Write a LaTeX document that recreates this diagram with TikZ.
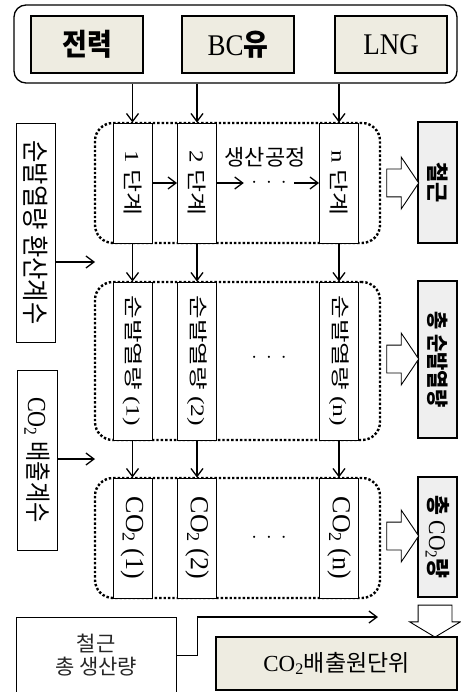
\documentclass[tikz,border=0pt]{standalone}
\usepackage{fontspec}
\usepackage{graphicx}
\setmainfont{Liberation Serif}
\newfontfamily\kr{Noto Sans CJK KR}
\usepackage{tikz}
\usetikzlibrary{arrows.meta,positioning,shapes.arrows}
\definecolor{cBege}{HTML}{EEECE1}
\definecolor{cCinza}{HTML}{EFEFEF}
\newcommand{\fs}[1]{\fontsize{#1}{#1}\selectfont}
\newcommand{\vt}[2]{\rotatebox{-90}{\scalebox{#1}[1]{#2}}}
\newcommand{\hs}[2]{\scalebox{#1}[1]{#2}}

\begin{document}
\begin{tikzpicture}[
  x=1pt,y=1pt,
  grp/.style={draw,line width=1.3pt,rounded corners=12pt,inner sep=0pt,minimum width=443,minimum height=78},
  fuel/.style={draw,fill=cBege,line width=1.2pt,inner sep=0pt,minimum width=112,minimum height=57,font=\fs{30}},
  col/.style={draw,fill=white,line width=0.9pt,inner sep=0pt,minimum width=39},
  dotb/.style={draw,line width=2.4pt,dash pattern=on 2.4pt off 2pt,rounded corners=18pt,inner sep=0pt,minimum width=285},
  side/.style={draw,fill=white,line width=0.9pt,inner sep=0pt},
  tot/.style={draw,fill=cCinza,line width=1.3pt,inner sep=0pt,minimum width=39},
  hol/.style={draw,fill=white,line width=0.9pt,single arrow,inner xsep=0pt,inner ysep=13.5pt,
              minimum height=32,single arrow head extend=12pt,single arrow tip angle=112},
  dots/.style={inner sep=0pt,minimum width=50,font=\fs{20}},
  ar/.style={-{Straight Barb[length=8pt,width=12pt]},line width=1.3pt}
]
\useasboundingbox (0,0) rectangle (460,-692);

% ---- fontes de energia
\node[grp] (src) at (235.5,-44) {};
\node[fuel] (f1) at (87,-44.5)  {\hs{0.9}{\kr\bfseries 전력}};
\node[fuel] (f2) at (238,-44.5) {\hs{0.9}{BC{\kr\bfseries 유}}};
\node[fuel] (f3) at (391,-44.5) {\hs{0.9}{LNG}};

% ---- grupos pontilhados
\node[dotb,minimum height=120] (g1) at (237.5,-183) {};
\node[dotb,minimum height=158] (g2) at (237.5,-361) {};
\node[dotb,minimum height=120] (g3) at (237.5,-538) {};

% ---- linha 1: etapas
\node[col,minimum height=120] (c11) at (132.5,-183) {\fs{20}\vt{1.25}{1 {\kr 단계}}};
\node[col,minimum height=120] (c12) at (197,-183)   {\fs{20}\vt{1.25}{2 {\kr 단계}}};
\node[col,minimum height=120] (c1n) at (339,-183)   {\fs{20}\vt{1.25}{n {\kr 단계}}};
\node[font=\fs{22}\kr] (lbl) at (265,-157) {생산공정};
\node[dots] (d1) at (269,-183) {$\cdot$\hspace{9pt}$\cdot$\hspace{9pt}$\cdot$};

% ---- linha 2: poder calorifico
\node[col,minimum height=158] (c21) at (132.5,-361) {\fs{19}\vt{1.35}{{\kr 순발열량} (1)}};
\node[col,minimum height=158] (c22) at (197,-361)   {\fs{19}\vt{1.35}{{\kr 순발열량} (2)}};
\node[col,minimum height=158] (c2n) at (339,-361)   {\fs{19}\vt{1.35}{{\kr 순발열량} (n)}};
\node[dots] (d2) at (269,-358) {$\cdot$\hspace{9pt}$\cdot$\hspace{9pt}$\cdot$};

% ---- linha 3: CO2
\node[col,minimum height=120] (c31) at (132.5,-538) {\fs{26}\vt{1}{CO\textsubscript{2} (1)}};
\node[col,minimum height=120] (c32) at (197,-538)   {\fs{26}\vt{1}{CO\textsubscript{2} (2)}};
\node[col,minimum height=120] (c3n) at (339,-538)   {\fs{26}\vt{1}{CO\textsubscript{2} (n)}};
\node[dots] (d3) at (269,-538) {$\cdot$\hspace{9pt}$\cdot$\hspace{9pt}$\cdot$};

% ---- fatores a esquerda
\node[side,minimum width=39,minimum height=219] (k1) at (35.5,-232.5) {\fs{27}\vt{0.9}{\kr 순발열량 환산계수}};
\node[side,minimum width=40,minimum height=180] (k2) at (37,-460) {\fs{26}\vt{0.85}{CO\textsubscript{2} {\kr 배출계수}}};
\coordinate (e1) at (95,-262);
\coordinate (e2) at (95,-459);

% ---- totais a direita
\node[tot,minimum height=121] (r1) at (437.5,-182.5) {\fs{22}\vt{1}{\kr\bfseries 철근}};
\node[tot,minimum height=157] (r2) at (437.5,-359.5) {\fs{22}\vt{0.9}{\kr\bfseries 총 순발열량}};
\node[tot,minimum height=120] (r3) at (437.5,-537)   {\fs{24}\vt{0.9}{{\kr\bfseries 총} CO\textsubscript{2}{\kr\bfseries 량}}};
\node[hol] (h1) at (398,-183) {};
\node[hol] (h2) at (398,-359) {};
\node[hol] (h3) at (398,-536) {};
\node[hol,rotate=-90,inner ysep=16.5pt,single arrow head extend=8.5pt,
      single arrow tip angle=118] (h4) at (435,-616) {};

% ---- producao e resultado
\node[side,minimum width=160,minimum height=77,align=center,font=\fs{21}\kr,
      text=black!85] (pt) at (96,-655.5) {철근\\[2pt]총 생산량};
\node[draw,fill=cBege,line width=1.3pt,minimum width=241,minimum height=53,
      font=\fs{23}] (res) at (336.5,-663.5) {CO\textsubscript{2}{\kr 배출원단위}};
\coordinate (e3) at (378,-617);

% ---- setas
\draw[ar] (src.south -| c11) -- (c11);
\draw[ar] (src.south -| c12) -- (c12);
\draw[ar] (src.south -| c1n) -- (c1n);
\draw[ar] (c11) -- (c12);
\draw[ar] (c12) -- (d1);
\draw[ar] (d1) -- (c1n);
\draw[ar] (c11) -- (c21);
\draw[ar] (c12) -- (c22);
\draw[ar] (c1n) -- (c2n);
\draw[ar] (c21) -- (c31);
\draw[ar] (c22) -- (c32);
\draw[ar] (c2n) -- (c3n);
\draw[ar] (k1.east |- e1) -- (e1);
\draw[ar] (k2.east |- e2) -- (e2);
\draw[ar] (pt.east) -- ++(21,0) |- (e3);
\end{tikzpicture}
\end{document}
